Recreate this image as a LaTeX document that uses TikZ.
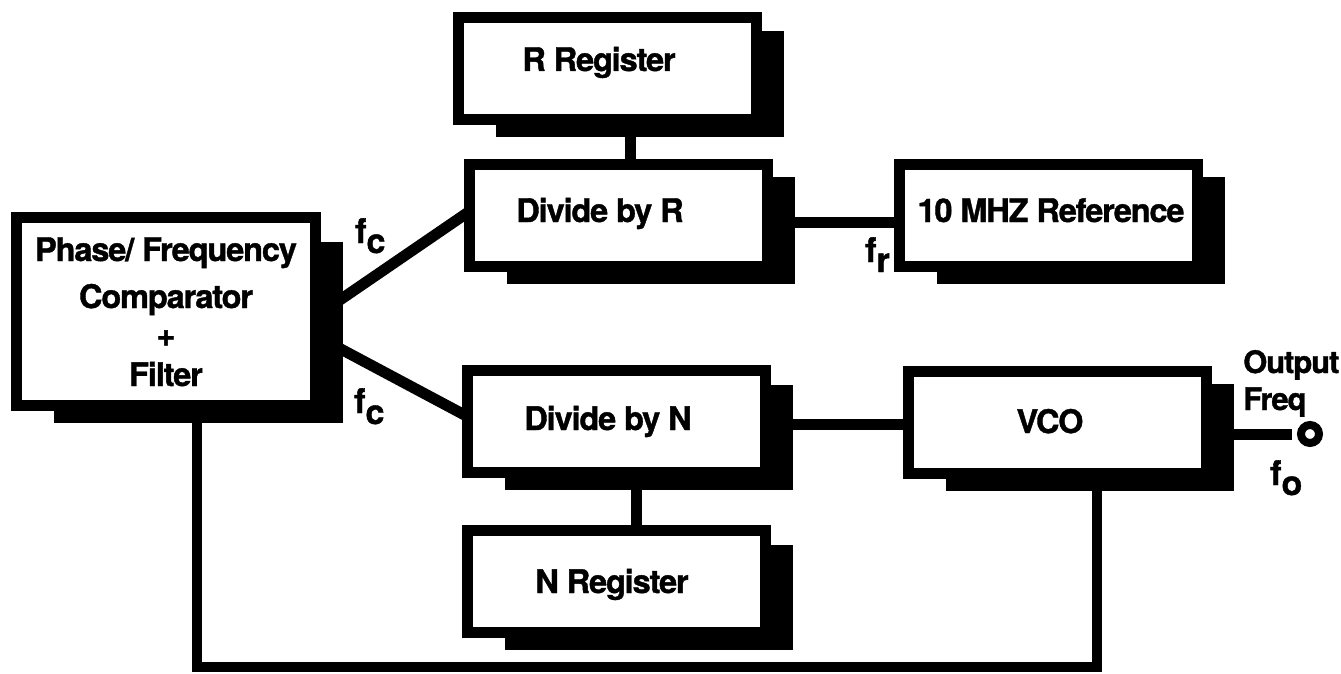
\documentclass[tikz,border=0pt]{standalone}
\usepackage{fontspec}
\setmainfont{TeX Gyre Heros}[LetterSpace=-3.5, BoldFeatures={FakeBold=1.2}]
\usetikzlibrary{backgrounds,calc}
\newcommand\shadowof[2]{\fill ($(#1.north west)+(43,#2)$) rectangle ($(#1.south east)+(22,12)$);}
\begin{document}
\begin{tikzpicture}[x=1pt,y=-1pt,
  blk/.style={draw=black, line width=11pt, fill=white, minimum width=298pt, minimum height=102pt, inner sep=0pt},
  wire/.style={line width=11pt, line join=miter},
  txt/.style={font=\fontsize{32.5}{36}\selectfont\bfseries, inner sep=0pt, anchor=base},
  lbl/.style={font=\fontsize{31}{36}\selectfont\bfseries, inner sep=0pt, anchor=base west},
  flbl/.style={font=\fontsize{34}{36}\selectfont\bfseries, inner sep=0pt, anchor=base west}
]
\useasboundingbox (0,0) rectangle (1341,674);

% blocks
\node[blk] (rreg) at (607.5,69) {};
\node[blk] (divr) at (618,215.5) {};
\node[blk] (ref)  at (1048.5,215.5) {};
\node[blk] (divn) at (616,421) {};
\node[blk] (nreg) at (616,581) {};
\node[blk] (vco)  at (1057.5,422) {};
\node[blk, minimum width=299pt, minimum height=188pt] (phase) at (166,311.5) {};

% block texts
\node[txt] (trreg) at (599,71) {R Register};
\node[txt] (tdivr) at (600,222) {Divide by R};
\node[txt] (tref)  at (1051,222) {10 MHZ Reference};
\node[txt] (tdivn) at (608,430) {Divide by N};
\node[txt] (tnreg) at (612,593) {N Register};
\node[txt] (tvco)  at (1050,433) {VCO};
\node[txt] (tph1)  at (166,261) {Phase/ Frequency};
\node[txt] (tph2)  at (166,308) {Comparator};
\node[txt] (tph3)  at (166,346) {+};
\node[txt] (tph4)  at (166,386) {Filter};

% shadows and background
\begin{scope}[on background layer]
  \fill[white] (0,0) rectangle (1341,674);
  \shadowof{rreg}{19}
  \shadowof{divr}{18}
  \shadowof{ref}{18}
  \shadowof{divn}{20}
  \shadowof{nreg}{20}
  \shadowof{vco}{18}
  \shadowof{phase}{30}
\end{scope}

% connectors
\draw[wire] ([xshift=12pt]divr.north) -- ([xshift=12pt]divr.north |- rreg.south);
\draw[wire] ([xshift=20pt]divn.south) -- ([xshift=20pt]divn.south |- nreg.north);
\draw[wire] ([yshift=-6.5pt]divr.east) -- ([yshift=-6.5pt]divr.east -| ref.west);
\draw[wire] ([yshift=-3pt]divn.east) -- ([yshift=-3pt]divn.east -| vco.west);
\draw[wire] ([xshift=16pt,yshift=9.5pt]phase.east) -- ([xshift=5pt,yshift=3.5pt]divr.west);
\draw[wire] ([xshift=16pt,yshift=-35.5pt]phase.east) -- ([xshift=5pt,yshift=5pt]divn.west);
\draw[line width=10pt, line join=miter] ([xshift=31pt]phase.south) -- ++(0,256) -| ([xshift=39.5pt]vco.south);

% output terminal
\draw[wire] ([yshift=-12pt]vco.east) -- ([yshift=-12pt,xshift=80pt]vco.east);
\node[circle, draw=black, line width=8pt, fill=white, minimum size=18pt, inner sep=0pt] (outp) at (1310,434) {};

% labels
\node[flbl] (fc1) at (355,243) {f\raisebox{-10pt}{c}};
\node[flbl] (fc2) at (354,413) {f\raisebox{-11pt}{c}};
\node[flbl] (fr)  at (865,262) {f\raisebox{-10pt}{r}};
\node[flbl] (fo)  at (1270,485) {f\raisebox{-10pt}{o}};
\node[lbl] (outl) at (1243,373) {Output};
\node[lbl] (freql) at (1243,410) {Freq};
\end{tikzpicture}
\end{document}
